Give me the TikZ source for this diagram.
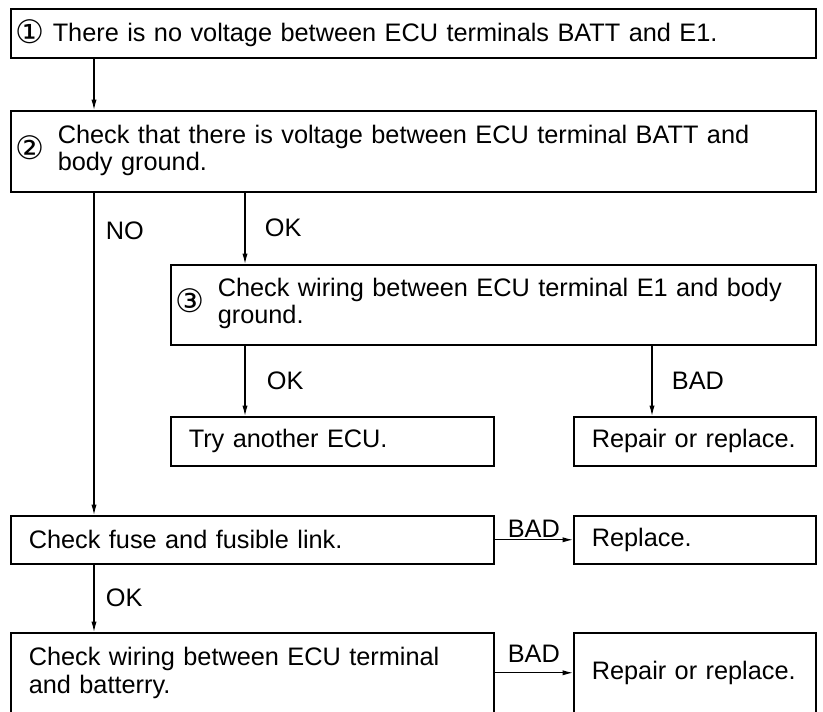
\documentclass[tikz,border=0pt]{standalone}
\usepackage{fontspec}
\setmainfont{Liberation Sans}
\newfontfamily\simbol{DejaVu Sans}
\usetikzlibrary{arrows.meta, positioning}

\newcommand{\bulat}[1]{\raisebox{-1.5pt}{\simbol\fontsize{23}{23}\selectfont #1}}

\begin{document}
\begin{tikzpicture}[
    font=\fontsize{18}{19.5}\selectfont,
    kotak/.style={draw, line width=1.1pt, anchor=north west, align=left,
                  inner ysep=0pt},
    dua/.style={kotak, inner xsep=0.125cm},
    satu/.style={kotak, inner xsep=0.45cm},
    panah/.style={-{Latex[length=2.6mm, width=1.3mm]}, line width=0.8pt},
    ket/.style={inner sep=1pt}
  ]
    \useasboundingbox (0,0) rectangle (20.575,-17.775);
    \node[dua, text width=19.875cm, minimum height=1.225cm] (tegangan) at (0.25,-0.2)
      {\bulat{①}\hspace{0.2cm}There is no voltage between ECU terminals BATT and E1.};
    \node[dua, text width=19.875cm, minimum height=2.025cm] (batt) at (0.25,-2.75)
      {\makebox[1.05cm][l]{\bulat{②}}\begin{tabular}[c]{@{}l@{}}%
       \makebox[17.625cm][s]{Check that there is voltage between ECU terminal BATT and}\\
       body ground.\end{tabular}};
    \node[dua, text width=15.875cm, minimum height=2cm] (massa) at (4.25,-6.6)
      {\makebox[1.05cm][l]{\bulat{③}}\begin{tabular}[c]{@{}l@{}}%
       \makebox[14.475cm][s]{Check wiring between ECU terminal E1 and body}\\
       ground.\end{tabular}};
    \node[satu, text width=7.175cm, minimum height=1.225cm] (coba) at (4.25,-10.4)
      {Try another ECU.};
    \node[satu, text width=5.15cm, minimum height=1.225cm] (perbaiki) at (14.325,-10.4)
      {Repair or replace.};
    \node[satu, text width=11.175cm, minimum height=1.2cm] (sekring) at (0.25,-12.875)
      {Check fuse and fusible link.};
    \node[satu, text width=5.15cm, minimum height=1.2cm] (ganti) at (14.325,-12.875)
      {Replace.};
    \node[satu, text width=11.175cm, minimum height=2cm] (kabel) at (0.25,-15.8)
      {Check wiring between ECU terminal\\and batterry.};
    \node[satu, text width=5.15cm, minimum height=2cm] (perbaiki2) at (14.325,-15.8)
      {Repair or replace.};
    % kolom panah
    \coordinate (kiri) at (2.35,0);
    \coordinate (tengah) at (6.125,0);
    \coordinate (kanan) at (16.3,0);
    \draw[panah] (tegangan.south -| kiri) -- (batt.north -| kiri);
    \draw[panah] (batt.south -| kiri) -- node[ket, right=0.25cm, pos=0.12] {NO} (sekring.north -| kiri);
    \draw[panah] (batt.south -| tengah) -- node[ket, right=0.45cm] {OK} (massa.north -| tengah);
    \draw[panah] (massa.south -| tengah) -- node[ket, right=0.5cm] {OK} (coba.north -| tengah);
    \draw[panah] (massa.south -| kanan) -- node[ket, right=0.45cm] {BAD} (perbaiki.north -| kanan);
    \draw[panah] (sekring.south -| kiri) -- node[ket, right=0.25cm] {OK} (kabel.north -| kiri);
    \draw[panah] (sekring.east) -- node[ket, above] {BAD} (ganti.west);
    \draw[panah] (kabel.east) -- node[ket, above=0.2cm] {BAD} (perbaiki2.west);
\end{tikzpicture}
\end{document}
